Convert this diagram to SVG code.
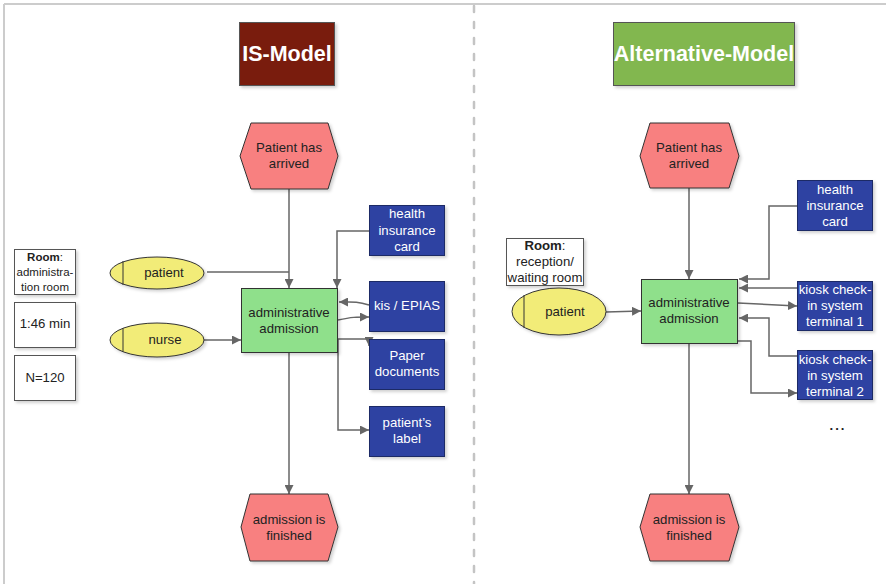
<svg xmlns="http://www.w3.org/2000/svg" width="886" height="584" viewBox="0 0 886 584">
  <style>
    text { font-family: "Liberation Sans", Arial, Helvetica, sans-serif; font-size: 13.2px; text-anchor: middle; }
    .title { font-size: 21.5px; font-weight: bold; fill: #ffffff; }
    .event { fill: #f88080; stroke: #333333; stroke-width: 1; }
    .func { fill: #8fe08b; stroke: #333333; stroke-width: 1; }
    .info { fill: #2e43a2; stroke: #1e2a66; stroke-width: 1; }
    .info-t { fill: #ffffff; }
    .role { fill: #f2ec78; stroke: #333333; stroke-width: 1; }
    .note { fill: #ffffff; stroke: #555555; stroke-width: 1; }
    .dark { fill: #222222; }
    .small { font-size: 11.5px; }
    .edge { fill: none; stroke: #666666; stroke-width: 1.5; }
    .shadow { filter: url(#sh); }
  </style>
  <defs>
    <filter id="sh" x="-20%" y="-20%" width="140%" height="140%">
      <feDropShadow dx="2" dy="2" stdDeviation="1.5" flood-color="#000000" flood-opacity="0.18"/>
    </filter>
    <marker id="arr" viewBox="0 0 10 10" refX="10" refY="5" markerWidth="9" markerHeight="9" markerUnits="userSpaceOnUse" orient="auto">
      <path d="M0,0 L10,5 L0,10 z" fill="#666666"/>
    </marker>
  </defs>

  <!-- frame and separator -->
  <rect x="0" y="0" width="886" height="584" fill="#ffffff"/>
  <line x1="4" y1="4" x2="886" y2="4" stroke="#cccccc" stroke-width="2"/>
  <line x1="4" y1="4" x2="4" y2="584" stroke="#cccccc" stroke-width="2"/>
  <line x1="474" y1="6" x2="474" y2="584" stroke="#c4c4c4" stroke-width="2.5" stroke-linecap="round" stroke-dasharray="6 10"/>

  <!-- titles -->
  <g id="title-is">
    <rect class="shadow" x="239.5" y="22.5" width="95" height="63" fill="#791a0d" stroke="#555555"/>
    <text class="title" x="287" y="61">IS-Model</text>
  </g>
  <g id="title-alt">
    <rect class="shadow" x="613.5" y="22.5" width="181" height="63" fill="#82b74f" stroke="#555555"/>
    <text class="title" x="704" y="61" font-size="21">Alternative-Model</text>
  </g>

  <!-- connectors -->
  <g id="connectors">
    <!-- IS model -->
    <path class="edge" d="M289,189 V288" marker-end="url(#arr)"/>
    <path class="edge" d="M207,272 H289"/>
    <path class="edge" d="M369,231 H337 V288" marker-end="url(#arr)"/>
    <path class="edge" d="M369,305 C356,301 352,302 339,302" marker-end="url(#arr)"/>
    <path class="edge" d="M338,320 C352,317 356,317 369,317" marker-end="url(#arr)"/>
    <path class="edge" d="M338,339 H369 V346" marker-end="url(#arr)"/>
    <path class="edge" d="M338,339 V430 H369" marker-end="url(#arr)"/>
    <path class="edge" d="M204,340 H241" marker-end="url(#arr)"/>
    <path class="edge" d="M289,353 V494" marker-end="url(#arr)"/>
    <!-- alternative model -->
    <path class="edge" d="M689,188 V279" marker-end="url(#arr)"/>
    <path class="edge" d="M606,312 L641,311" marker-end="url(#arr)"/>
    <path class="edge" d="M797,206 H769 V279 H739" marker-end="url(#arr)"/>
    <path class="edge" d="M797,288 H739" marker-end="url(#arr)"/>
    <path class="edge" d="M738,303 L797,306" marker-end="url(#arr)"/>
    <path class="edge" d="M797,356 H769 V318 H739" marker-end="url(#arr)"/>
    <path class="edge" d="M738,341 H751 V393 H797" marker-end="url(#arr)"/>
    <path class="edge" d="M689,344 V494" marker-end="url(#arr)"/>
  </g>

  <!-- IS model nodes -->
  <g id="is-note-room">
    <rect class="note shadow" x="14.5" y="249.5" width="61" height="45"/>
    <text class="small dark" x="45" y="261"><tspan font-weight="bold">Room</tspan>:</text>
    <text class="small dark" x="45" y="276">administra-</text>
    <text class="small dark" x="45" y="291">tion room</text>
  </g>
  <g id="is-note-time">
    <rect class="note shadow" x="14.5" y="302.5" width="61" height="45"/>
    <text class="dark" x="45" y="328">1:46 min</text>
  </g>
  <g id="is-note-n">
    <rect class="note shadow" x="14.5" y="355.5" width="61" height="45"/>
    <text class="dark" x="45" y="382">N=120</text>
  </g>

  <g id="is-start">
    <polygon class="event shadow" points="251,123 328,123 338,156 328,189 251,189 240,156"/>
    <text class="dark" x="289" y="152">Patient has</text>
    <text class="dark" x="289" y="168">arrived</text>
  </g>
  <g id="is-patient">
    <ellipse class="role shadow" cx="157" cy="273" rx="47" ry="16"/>
    <line x1="123" y1="261" x2="123" y2="285" stroke="#333333"/>
    <text class="dark" x="164" y="277">patient</text>
  </g>
  <g id="is-nurse">
    <ellipse class="role shadow" cx="157" cy="340" rx="47" ry="17"/>
    <line x1="123" y1="328" x2="123" y2="352" stroke="#333333"/>
    <text class="dark" x="165" y="344">nurse</text>
  </g>
  <g id="is-admission">
    <rect class="func shadow" x="241.5" y="288.5" width="96" height="64"/>
    <text class="dark" x="289" y="317">administrative</text>
    <text class="dark" x="289" y="333">admission</text>
  </g>
  <g id="is-card">
    <rect class="info shadow" x="369.5" y="205.5" width="75" height="50"/>
    <text class="info-t" x="407" y="218">health</text>
    <text class="info-t" x="407" y="235">insurance</text>
    <text class="info-t" x="407" y="251">card</text>
  </g>
  <g id="is-kis">
    <rect class="info shadow" x="369.5" y="281.5" width="75" height="50"/>
    <text class="info-t" x="407" y="310">kis / EPIAS</text>
  </g>
  <g id="is-paper">
    <rect class="info shadow" x="369.5" y="339.5" width="75" height="50"/>
    <text class="info-t" x="407" y="360">Paper</text>
    <text class="info-t" x="407" y="376">documents</text>
  </g>
  <g id="is-label">
    <rect class="info shadow" x="369.5" y="406.5" width="75" height="50"/>
    <text class="info-t" x="407" y="427">patient’s</text>
    <text class="info-t" x="407" y="443">label</text>
  </g>
  <g id="is-end">
    <polygon class="event shadow" points="250,494 328,494 338,527 328,561 250,561 241,527"/>
    <text class="dark" x="289" y="524">admission is</text>
    <text class="dark" x="289" y="540">finished</text>
  </g>

  <!-- alternative model nodes -->
  <g id="alt-note-room">
    <rect class="note shadow" x="506.5" y="238.5" width="77" height="47"/>
    <text class="dark" x="545" y="250" font-size="12.5"><tspan font-weight="bold">Room</tspan>:</text>
    <text class="dark" x="545" y="266" font-size="12.5">reception/</text>
    <text class="dark" x="545" y="282" font-size="12.5">waiting room</text>
  </g>
  <g id="alt-start">
    <polygon class="event shadow" points="650,123 729,123 739,156 729,188 650,188 640,156"/>
    <text class="dark" x="689" y="152">Patient has</text>
    <text class="dark" x="689" y="168">arrived</text>
  </g>
  <g id="alt-patient">
    <ellipse class="role shadow" cx="559" cy="311.5" rx="47" ry="23.5"/>
    <line x1="524" y1="295" x2="524" y2="328" stroke="#333333"/>
    <text class="dark" x="565" y="316">patient</text>
  </g>
  <g id="alt-admission">
    <rect class="func shadow" x="641.5" y="279.5" width="96" height="64"/>
    <text class="dark" x="689" y="307">administrative</text>
    <text class="dark" x="689" y="323">admission</text>
  </g>
  <g id="alt-card">
    <rect class="info shadow" x="797.5" y="180.5" width="75" height="50"/>
    <text class="info-t" x="835" y="194">health</text>
    <text class="info-t" x="835" y="210">insurance</text>
    <text class="info-t" x="835" y="226">card</text>
  </g>
  <g id="alt-kiosk1">
    <rect class="info shadow" x="797.5" y="281.5" width="75" height="49"/>
    <text class="info-t" x="835" y="294">kiosk check-</text>
    <text class="info-t" x="835" y="310">in system</text>
    <text class="info-t" x="835" y="326">terminal 1</text>
  </g>
  <g id="alt-kiosk2">
    <rect class="info shadow" x="797.5" y="350.5" width="75" height="49"/>
    <text class="info-t" x="835" y="364">kiosk check-</text>
    <text class="info-t" x="835" y="380">in system</text>
    <text class="info-t" x="835" y="396">terminal 2</text>
  </g>
  <g id="alt-more">
    <text class="dark" x="838" y="430" font-size="24" font-weight="bold" letter-spacing="2">...</text>
  </g>
  <g id="alt-end">
    <polygon class="event shadow" points="650,494 729,494 739,527 729,561 650,561 640,527"/>
    <text class="dark" x="689" y="524">admission is</text>
    <text class="dark" x="689" y="540">finished</text>
  </g>
</svg>
